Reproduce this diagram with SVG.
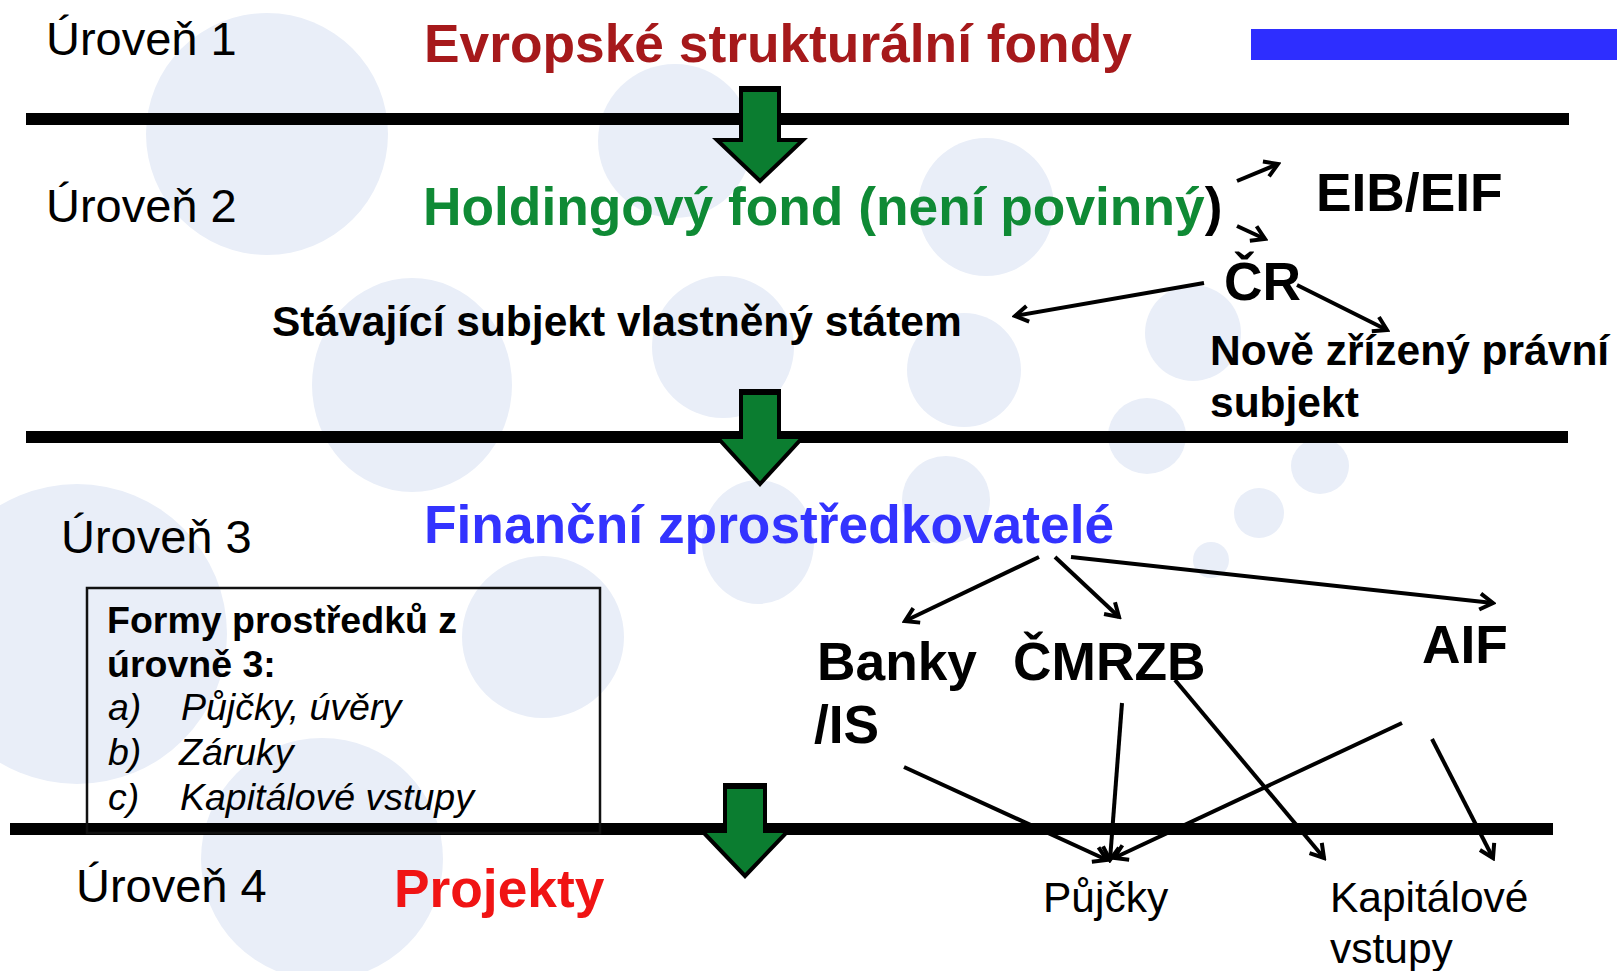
<svg xmlns="http://www.w3.org/2000/svg" width="1617" height="971" viewBox="0 0 1617 971">
  <defs>
    <style>
      .bg { fill: #e9eef8; }
      .rule { fill: #000; }
      .lvl { font-family: "Liberation Sans", Arial, sans-serif; font-size: 47px; fill: #000; }
      .big { font-family: "Liberation Sans", Arial, sans-serif; font-size: 53.3px; font-weight: bold; }
      .mid { font-family: "Liberation Sans", Arial, sans-serif; font-size: 42.5px; font-weight: bold; fill: #000; }
      .box { font-family: "Liberation Sans", Arial, sans-serif; font-size: 37.5px; fill: #000; }
      .out { font-family: "Liberation Sans", Arial, sans-serif; font-size: 42.5px; fill: #000; }
      .flow { fill: #0b7d30; stroke: #000; stroke-width: 4; stroke-linejoin: miter; }
      .conn { stroke: #000; stroke-width: 4; fill: none; marker-end: url(#open); }
    </style>
    <marker id="open" viewBox="0 0 20 20" refX="17" refY="10" markerWidth="20" markerHeight="20" markerUnits="userSpaceOnUse" orient="auto">
      <path d="M4,2 L17,10 L4,18" fill="none" stroke="#000" stroke-width="4"/>
    </marker>
  </defs>

  <rect width="1617" height="971" fill="#fff"/>

  <!-- decorative background bubbles -->
  <g id="background">
    <circle class="bg" cx="267" cy="134" r="121"/>
    <circle class="bg" cx="675" cy="141" r="77"/>
    <ellipse class="bg" cx="986" cy="207" rx="68" ry="69"/>
    <ellipse class="bg" cx="412" cy="385" rx="100" ry="107"/>
    <circle class="bg" cx="723" cy="347" r="71"/>
    <circle class="bg" cx="964" cy="370" r="57"/>
    <circle class="bg" cx="1193" cy="333" r="48"/>
    <ellipse class="bg" cx="1147" cy="436" rx="39" ry="38"/>
    <ellipse class="bg" cx="1320" cy="466" rx="29" ry="28"/>
    <circle class="bg" cx="1259" cy="513" r="25"/>
    <circle class="bg" cx="1211" cy="560" r="18"/>
    <circle class="bg" cx="77" cy="634" r="150"/>
    <circle class="bg" cx="543" cy="637" r="81"/>
    <circle class="bg" cx="322" cy="859" r="121"/>
    <ellipse class="bg" cx="758" cy="542" rx="56" ry="62"/>
    <circle class="bg" cx="946" cy="500" r="44"/>
  </g>

  <!-- top-right accent bar -->
  <rect x="1251" y="29" width="366" height="31" fill="#2e2eff"/>

  <!-- level separators -->
  <g id="separators">
    <rect class="rule" x="26" y="113" width="1543" height="12"/>
    <rect class="rule" x="26" y="431" width="1542" height="12"/>
    <rect class="rule" x="10" y="823" width="1543" height="12"/>
  </g>

  <!-- level labels -->
  <g id="levels">
    <text class="lvl" x="46" y="55">Úroveň 1</text>
    <text class="lvl" x="46" y="222">Úroveň 2</text>
    <text class="lvl" x="61" y="553">Úroveň 3</text>
    <text class="lvl" x="76" y="902">Úroveň 4</text>
  </g>

  <g id="node-esf">
    <text class="big" x="424" y="62" fill="#a6191b">Evropské strukturální fondy</text>
  </g>
  <g id="node-holding">
    <text class="big" x="423" y="225" fill="#0f8a35">Holdingový fond (není povinný<tspan fill="#000">)</tspan></text>
  </g>
  <g id="node-eib">
    <text class="big" x="1316" y="211" fill="#000">EIB/EIF</text>
  </g>
  <g id="node-cr">
    <text class="big" x="1224" y="300" fill="#000">ČR</text>
  </g>
  <g id="node-existing">
    <text class="mid" x="272" y="336">Stávající subjekt vlastněný státem</text>
  </g>
  <g id="node-new">
    <text class="mid" x="1210" y="365">Nově zřízený právní</text>
    <text class="mid" x="1210" y="417">subjekt</text>
  </g>
  <g id="node-intermediaries">
    <text class="big" x="424" y="543" fill="#3333ff">Finanční zprostředkovatelé</text>
  </g>

  <g id="node-forms">
    <rect x="87" y="588" width="513" height="245" fill="none" stroke="#111" stroke-width="2.5"/>
    <text class="box" x="107" y="633" font-weight="bold">Formy prostředků z</text>
    <text class="box" x="107" y="677" font-weight="bold">úrovně 3:</text>
    <text class="box" x="108" y="720" font-style="italic">a)</text>
    <text class="box" x="181" y="720" font-style="italic">Půjčky, úvěry</text>
    <text class="box" x="108" y="765" font-style="italic">b)</text>
    <text class="box" x="179" y="765" font-style="italic">Záruky</text>
    <text class="box" x="108" y="810" font-style="italic">c)</text>
    <text class="box" x="180" y="810" font-style="italic">Kapitálové vstupy</text>
  </g>

  <g id="node-banky">
    <text class="big" x="817" y="680" fill="#000">Banky</text>
    <text class="big" x="814" y="743" fill="#000">/IS</text>
  </g>
  <g id="node-cmrzb">
    <text class="big" x="1013" y="680" fill="#000">ČMRZB</text>
  </g>
  <g id="node-aif">
    <text class="big" x="1422" y="663" fill="#000">AIF</text>
  </g>
  <g id="node-projekty">
    <text class="big" x="394" y="907" fill="#f01414">Projekty</text>
  </g>
  <g id="node-loans">
    <text class="out" x="1043" y="912">Půjčky</text>
  </g>
  <g id="node-equity">
    <text class="out" x="1330" y="912">Kapitálové</text>
    <text class="out" x="1330" y="963">vstupy</text>
  </g>

  <!-- block arrows between levels -->
  <g id="level-arrows">
    <path class="flow" d="M741,89 H779 V140 H803 L760,181 L717,140 H741 Z"/>
    <rect x="739" y="86" width="42" height="6" fill="#000"/>
    <path class="flow" d="M741,392 H779 V437 H803 L760,484 L717,437 H741 Z"/>
    <rect x="739" y="389" width="42" height="6" fill="#000"/>
    <path class="flow" d="M725,786 H765 V831 H788 L745,876 L702,831 H725 Z"/>
    <rect x="723" y="783" width="44" height="6" fill="#000"/>
  </g>

  <!-- connectors -->
  <g id="connectors">
    <line class="conn" x1="1237" y1="181" x2="1278" y2="164"/>
    <line class="conn" x1="1237" y1="226" x2="1265" y2="239"/>
    <line class="conn" x1="1204" y1="283" x2="1015" y2="316"/>
    <line class="conn" x1="1297" y1="285" x2="1387" y2="330"/>
    <line class="conn" x1="1039" y1="557" x2="905" y2="621"/>
    <line class="conn" x1="1055" y1="557" x2="1119" y2="617"/>
    <line class="conn" x1="1071" y1="557" x2="1493" y2="603"/>
    <line class="conn" x1="904" y1="767" x2="1107" y2="860"/>
    <line class="conn" x1="1122" y1="703" x2="1110" y2="860"/>
    <line class="conn" x1="1402" y1="723" x2="1114" y2="858"/>
    <line class="conn" x1="1175" y1="680" x2="1324" y2="858"/>
    <line class="conn" x1="1432" y1="739" x2="1493" y2="858"/>
  </g>
</svg>
